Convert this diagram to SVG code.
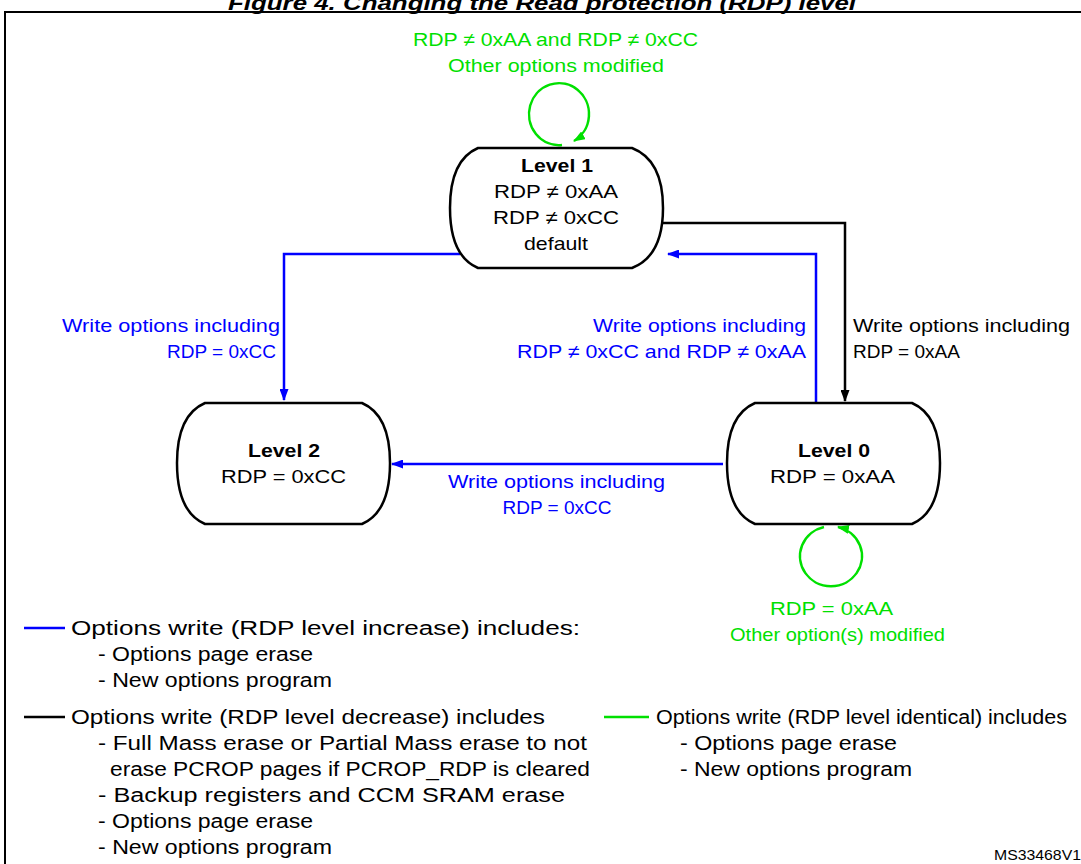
<svg xmlns="http://www.w3.org/2000/svg" width="1081" height="864" viewBox="0 0 1081 864">
<style>
text{font-family:"Liberation Sans",Arial,sans-serif;font-size:19px}
.l{font-size:20px}
.b{fill:#0000ff}.g{fill:#00e000}.k{fill:#000}
.n{fill:#fff;stroke:#000;stroke-width:2.5}
.bl{stroke:#0000ff;stroke-width:2.5;fill:none}
.bk{stroke:#000;stroke-width:2.5;fill:none}
.gr{stroke:#00e000;stroke-width:2.5;fill:none}
</style>
<defs>
<marker id="ab" markerWidth="12" markerHeight="9" refX="11" refY="4.5" orient="auto" markerUnits="userSpaceOnUse" viewBox="0 0 12 9"><path d="M0,0L12,4.5L0,9z" fill="#0000ff"/></marker>
<marker id="ak" markerWidth="12" markerHeight="9" refX="11" refY="4.5" orient="auto" markerUnits="userSpaceOnUse" viewBox="0 0 12 9"><path d="M0,0L12,4.5L0,9z" fill="#000"/></marker>
<marker id="ag" markerWidth="12" markerHeight="9" refX="11" refY="4.5" orient="auto" markerUnits="userSpaceOnUse" viewBox="0 0 12 9"><path d="M0,0L12,4.5L0,9z" fill="#00e000"/></marker>
</defs>
<text x="228" y="10" textLength="628" lengthAdjust="spacingAndGlyphs" font-weight="bold" font-style="italic" style="font-size:20px">Figure 4. Changing the Read protection (RDP) level</text>
<rect x="5" y="12" width="1090" height="870" fill="none" stroke="#000" stroke-width="2"/>
<g id="connectors">
<path class="bl" d="M460,254H284V400" marker-end="url(#ab)"/>
<path class="bl" d="M816,403V254H668" marker-end="url(#ab)"/>
<path class="bk" d="M663,223H845V401" marker-end="url(#ak)"/>
<path class="bl" d="M723,464H392" marker-end="url(#ab)"/>
<path class="gr" d="M562,145A30,31 0 1 1 574,141" marker-end="url(#ag)"/>
<path class="gr" d="M824,527A31,30 0 1 0 838,527" marker-end="url(#ag)"/>
</g>
<g id="level1"><path class="n" d="M478,148H632Q663,160 663,208Q663,256 632,268H478Q450,256 450,208Q450,160 478,148Z"/>
<text x="521" y="172" textLength="72" lengthAdjust="spacingAndGlyphs" font-weight="bold">Level 1</text>
<text x="494" y="198" textLength="124" lengthAdjust="spacingAndGlyphs">RDP ≠ 0xAA</text>
<text x="493" y="224" textLength="126" lengthAdjust="spacingAndGlyphs">RDP ≠ 0xCC</text>
<text x="524" y="250" textLength="64" lengthAdjust="spacingAndGlyphs">default</text></g>
<g id="level2"><path class="n" d="M205,403H362Q390,415 390,463Q390,512 362,524H205Q177,512 177,463Q177,415 205,403Z"/>
<text x="248" y="457" textLength="72" lengthAdjust="spacingAndGlyphs" font-weight="bold">Level 2</text>
<text x="221" y="483" textLength="125" lengthAdjust="spacingAndGlyphs">RDP = 0xCC</text></g>
<g id="level0"><path class="n" d="M755,403H912Q940,415 940,463Q940,512 912,524H755Q727,512 727,463Q727,415 755,403Z"/>
<text x="798" y="457" textLength="72" lengthAdjust="spacingAndGlyphs" font-weight="bold">Level 0</text>
<text x="770" y="483" textLength="125" lengthAdjust="spacingAndGlyphs">RDP = 0xAA</text></g>
<g id="labels">
<text class="g" x="413" y="46" textLength="285" lengthAdjust="spacingAndGlyphs">RDP ≠ 0xAA and RDP ≠ 0xCC</text>
<text class="g" x="448" y="72" textLength="216" lengthAdjust="spacingAndGlyphs">Other options modified</text>
<text class="b" x="62" y="332" textLength="218" lengthAdjust="spacingAndGlyphs">Write options including</text>
<text class="b" x="276" y="358" text-anchor="end">RDP = 0xCC</text>
<text class="b" x="593" y="332" textLength="213" lengthAdjust="spacingAndGlyphs">Write options including</text>
<text class="b" x="517" y="358" textLength="289" lengthAdjust="spacingAndGlyphs">RDP ≠ 0xCC and RDP ≠ 0xAA</text>
<text x="853" y="332" textLength="217" lengthAdjust="spacingAndGlyphs">Write options including</text>
<text x="853" y="358">RDP = 0xAA</text>
<text class="b" x="448" y="488" textLength="217" lengthAdjust="spacingAndGlyphs">Write options including</text>
<text class="b" x="557" y="514" text-anchor="middle">RDP = 0xCC</text>
<text class="g" x="770" y="615" textLength="123" lengthAdjust="spacingAndGlyphs">RDP = 0xAA</text>
<text class="g" x="730" y="641" textLength="215" lengthAdjust="spacingAndGlyphs">Other option(s) modified</text>
</g>
<g id="legend">
<line x1="24" y1="628" x2="65" y2="628" stroke="#0000ff" stroke-width="2.5"/>
<text class="l" x="71" y="635" textLength="509" lengthAdjust="spacingAndGlyphs">Options write (RDP level increase) includes:</text>
<text class="l" x="98" y="661" textLength="215" lengthAdjust="spacingAndGlyphs">- Options page erase</text>
<text class="l" x="98" y="687" textLength="234" lengthAdjust="spacingAndGlyphs">- New options program</text>
<line x1="24" y1="717" x2="65" y2="717" stroke="#000" stroke-width="2.5"/>
<text class="l" x="71" y="724" textLength="474" lengthAdjust="spacingAndGlyphs">Options write (RDP level decrease) includes</text>
<text class="l" x="98" y="750" textLength="489" lengthAdjust="spacingAndGlyphs">- Full Mass erase or Partial Mass erase to not</text>
<text class="l" x="110" y="776" textLength="480" lengthAdjust="spacingAndGlyphs">erase PCROP pages if PCROP_RDP is cleared</text>
<text class="l" x="98" y="802" textLength="467" lengthAdjust="spacingAndGlyphs">- Backup registers and CCM SRAM erase</text>
<text class="l" x="98" y="828" textLength="215" lengthAdjust="spacingAndGlyphs">- Options page erase</text>
<text class="l" x="98" y="854" textLength="234" lengthAdjust="spacingAndGlyphs">- New options program</text>
<line x1="604" y1="717" x2="649" y2="717" stroke="#00e000" stroke-width="2.5"/>
<text class="l" x="656" y="724" textLength="411" lengthAdjust="spacingAndGlyphs">Options write (RDP level identical) includes</text>
<text class="l" x="680" y="750" textLength="217" lengthAdjust="spacingAndGlyphs">- Options page erase</text>
<text class="l" x="680" y="776" textLength="232" lengthAdjust="spacingAndGlyphs">- New options program</text>
<text x="994" y="860" textLength="87" lengthAdjust="spacingAndGlyphs" style="font-size:15px">MS33468V1</text>
</g>
</svg>
